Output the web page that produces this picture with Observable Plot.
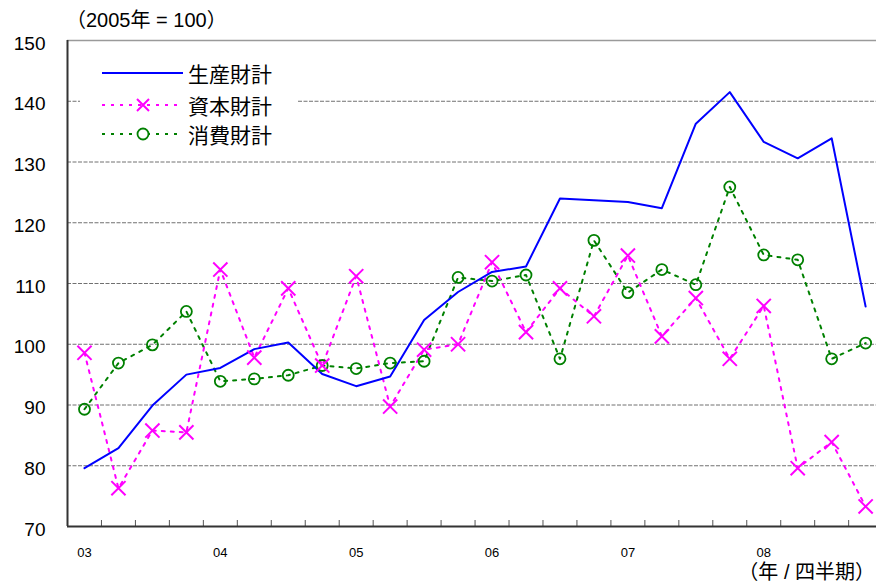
<!DOCTYPE html>
<html>
<head>
<meta charset="utf-8">
<script src="https://cdn.jsdelivr.net/npm/d3@7"></script>
<script src="https://cdn.jsdelivr.net/npm/@observablehq/plot@0.6"></script>
<style>
  html, body { margin: 0; padding: 0; background: #fff; overflow: hidden; }
  #wrap { position: relative; width: 876px; height: 587px; font-family: "Liberation Sans", Arial, "Noto Sans CJK JP", sans-serif; }
  #wrap svg { position: absolute; left: 0; top: 0; }
  .ov { position: absolute; color: #000; white-space: nowrap; }
  #title { left: 66px; top: 4px; font-size: 20px; font-family: "Liberation Sans", "Noto Sans CJK JP", sans-serif; }
  #unit { right: 1px; top: 562px; font-size: 20px; line-height: 1; text-align: right; font-family: "Liberation Sans", "Noto Sans CJK JP", sans-serif; }
  #legend { left: 80px; top: 56px; width: 218px; height: 94px; background: #fff; }
  .row { position: absolute; left: 20px; height: 24px; display: flex; align-items: center; }
  .row span { font-family: "Noto Sans CJK JP", sans-serif; font-size: 21px; margin-left: 4px; }
</style>
</head>
<body>
<div id="wrap">
  <div id="chart"></div>
  <div class="ov" id="title">（2005年 = 100）</div>
  <div class="ov" id="unit">（年 / 四半期）</div>
  <div class="ov" id="legend"></div>
</div>
<script>
const quarters = ["03Q1","03Q2","03Q3","03Q4","04Q1","04Q2","04Q3","04Q4","05Q1","05Q2","05Q3","05Q4","06Q1","06Q2","06Q3","06Q4","07Q1","07Q2","07Q3","07Q4","08Q1","08Q2","08Q3","08Q4"];
const yearLabels = ["03","04","05","06","07","08"];
const seriesNames = ["生産財計","資本財計","消費財計"];
const producer = [79.6,82.9,89.9,95.0,96.1,99.2,100.3,95.1,93.1,94.7,104.0,108.6,111.9,112.8,124.0,123.7,123.4,122.4,136.3,141.5,133.3,130.6,133.9,106.2];
const capital  = [98.6,76.3,85.8,85.5,112.3,97.8,109.2,96.5,111.2,89.75,99.1,100.0,113.5,102.0,109.2,104.6,114.6,101.3,107.6,97.6,106.3,79.6,83.9,73.3];
const consumer = [89.3,96.9,99.9,105.4,93.9,94.3,94.9,96.5,96.0,96.9,97.2,111.0,110.4,111.4,97.6,117.1,108.5,112.3,109.8,125.9,114.7,113.9,97.6,100.2];
const yTicks = [70,80,90,100,110,120,130,140,150];
const gridValues = [80,90,100,110,120,130,140];

const colors = {"生産財計":"#0000ff","資本財計":"#ff00ff","消費財計":"#008000"};

const rows = [];
[producer, capital, consumer].forEach((arr, s) => arr.forEach((v, i) => rows.push({i, q: quarters[i], series: seriesNames[s], value: v})));
const P = rows.filter(d => d.series === "生産財計");
const C = rows.filter(d => d.series === "資本財計");
const S = rows.filter(d => d.series === "消費財計");
const boundaries = d3.range(0.5, 24, 1);
const yearPos = yearLabels.map((y, k) => k * 4);

const chart = Plot.plot({
  width: 876,
  height: 587,
  marginTop: 40,
  marginBottom: 61,
  marginLeft: 67,
  marginRight: 0,
  style: {fontFamily: "Liberation Sans, Arial, sans-serif", background: "transparent", overflow: "hidden"},
  x: {type: "linear", domain: [-0.5, 23.32], axis: null},
  y: {domain: [70, 150], axis: null},
  marks: [
    Plot.ruleY(gridValues, {stroke: "#707070", strokeWidth: 1, strokeDasharray: "4,1.5"}),
    Plot.ruleY([150], {stroke: "#9a9a9a", strokeWidth: 1.5}),
    Plot.tickX(boundaries, {x: d => d, stroke: "#555", strokeWidth: 1, insetTop: 480}),
    Plot.ruleY([70], {stroke: "#333", strokeWidth: 2}),
    Plot.ruleX([-0.5], {stroke: "#333", strokeWidth: 2}),
    Plot.axisY(yTicks, {tickSize: 0, tickPadding: 22, fontSize: 19, dy: 3, label: null, fill: "#000"}),
    Plot.axisX(yearPos, {tickSize: 0, tickPadding: 21, fontSize: 13, label: null, tickFormat: i => yearLabels[i / 4], fill: "#000"}),
    Plot.line(S, {x: "i", y: "value", stroke: colors["消費財計"], strokeWidth: 2, strokeDasharray: "3,6"}),
    Plot.line(C, {x: "i", y: "value", stroke: colors["資本財計"], strokeWidth: 2, strokeDasharray: "3,6"}),
    Plot.line(P, {x: "i", y: "value", stroke: colors["生産財計"], strokeWidth: 2}),
    Plot.dot(S, {x: "i", y: "value", stroke: colors["消費財計"], r: 5.5, strokeWidth: 1.8, fill: "none"}),
    Plot.dot(C, {x: "i", y: "value", stroke: colors["資本財計"], symbol: "times", r: 6.5, strokeWidth: 2})
  ]
});
document.getElementById("chart").appendChild(chart);

// legend
const legend = document.getElementById("legend");
const legendItems = [
  {name: seriesNames[0], dash: null, marker: null, top: 5},
  {name: seriesNames[1], dash: "3,6", marker: "x", top: 37},
  {name: seriesNames[2], dash: "3,6", marker: "o", top: 66}
];
legendItems.forEach(it => {
  const row = document.createElement("div");
  row.className = "row";
  row.style.top = it.top + "px";
  const c = colors[it.name];
  let svg = `<svg width="84" height="24" style="position:static">` +
    `<line x1="2" y1="12" x2="83" y2="12" stroke="${c}" stroke-width="2" ${it.dash ? `stroke-dasharray="${it.dash}"` : ""}/>`;
  if (it.marker === "x") svg += `<path d="M37,6L49,18M49,6L37,18" stroke="${c}" stroke-width="2" fill="none"/>`;
  if (it.marker === "o") svg += `<circle cx="43" cy="12" r="5.5" stroke="${c}" stroke-width="1.8" fill="#fff"/>`;
  svg += `</svg>`;
  row.innerHTML = svg + `<span>${it.name}</span>`;
  legend.appendChild(row);
});
</script>
</body>
</html>
